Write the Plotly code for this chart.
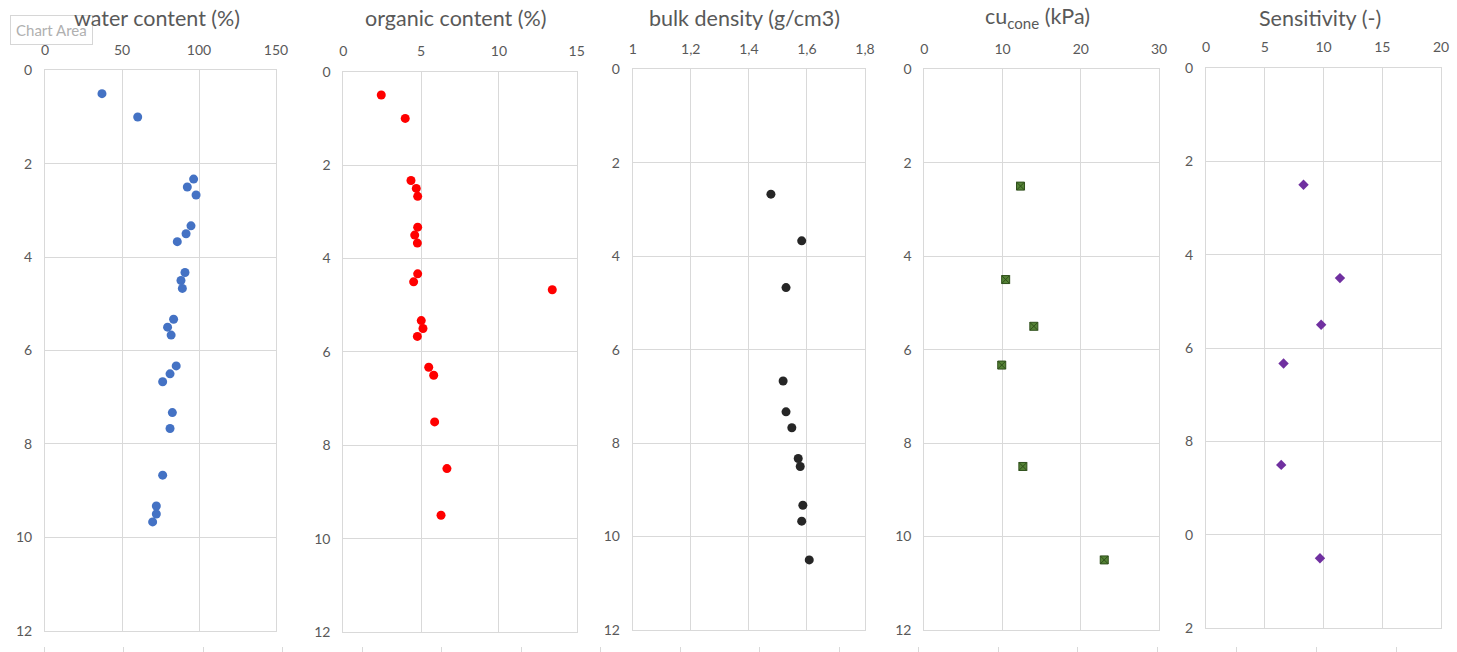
import plotly.graph_objects as go

# ---- data -------------------------------------------------------------
wc_depth = [0.5, 1.0, 2.33, 2.5, 2.67, 3.33, 3.5, 3.67, 4.33, 4.5, 4.67, 5.33, 5.5, 5.67,
            6.33, 6.5, 6.67, 7.33, 7.67, 8.67, 9.33, 9.5, 9.67]
wc_value = [37.0, 60.2, 96.5, 92.4, 98.1, 94.8, 91.6, 85.9, 90.9, 88.3, 89.2, 83.5, 79.6, 81.9,
            85.2, 81.2, 76.4, 82.7, 81.2, 76.4, 72.3, 72.3, 69.9]

oc_depth = [0.5, 1.0, 2.33, 2.5, 2.67, 3.33, 3.5, 3.67, 4.33, 4.5, 4.67, 5.33, 5.5, 5.67,
            6.33, 6.5, 7.5, 8.5, 9.5]
oc_value = [2.44, 3.98, 4.35, 4.69, 4.78, 4.78, 4.59, 4.76, 4.78, 4.52, 13.43, 5.01, 5.12, 4.76,
            5.49, 5.81, 5.87, 6.66, 6.28]

bd_depth = [2.67, 3.67, 4.67, 6.67, 7.33, 7.67, 8.33, 8.5, 9.33, 9.67, 10.5]
bd_value = [1.476, 1.582, 1.528, 1.518, 1.528, 1.548, 1.570, 1.577, 1.586, 1.582, 1.608]

cu_depth = [2.5, 4.5, 5.5, 6.33, 8.5, 10.5]
cu_value = [12.3, 10.4, 14.0, 9.9, 12.6, 23.0]

st_depth = [2.5, 4.5, 5.5, 6.33, 8.5, 10.5]
st_value = [8.3, 11.4, 9.8, 6.6, 6.4, 9.7]

titles = ["water content (%)", "organic content (%)", "bulk density (g/cm3)",
          "cu<sub>cone</sub> (kPa)", "Sensitivity (-)"]
x_ranges = [[0, 150], [0, 15], [1, 1.8], [0, 30], [0, 20]]
x_dticks = [50, 5, 0.2, 10, 5]
depth_ticks = [0, 2, 4, 6, 8, 10, 12]
depth_labels_last = ["0", "2", "4", "6", "8", "0", "2"]

# ---- layout geometry (pixels) ----------------------------------------
W, H = 1457, 652
panels_px = [  # left, right, top, bottom
    (45.0, 276.0, 70.3, 630.7),
    (343.3, 576.7, 71.7, 632.0),
    (632.7, 865.0, 69.4, 630.0),
    (924.3, 1159.0, 69.3, 630.0),
    (1206.0, 1441.0, 68.0, 628.3),
]

GRID = "#d9d9d9"
TXT = "#595959"
FONT = "Lato"

series = [
    (wc_value, wc_depth, dict(symbol="circle", size=9, color="#4472c4")),
    (oc_value, oc_depth, dict(symbol="circle", size=9, color="#ff0000")),
    (bd_value, bd_depth, dict(symbol="circle", size=9, color="#262626")),
    (cu_value, cu_depth, dict(symbol="square-x", size=8, color="#548235",
                              line=dict(color="#2f4f1b", width=1))),
    (st_value, st_depth, dict(symbol="diamond", size=8, color="#7030a0")),
]

fig = go.Figure()
annotations = [dict(text="Chart Area", x=10 / W, y=1 - 29.5 / H, xref="paper", yref="paper",
                    xanchor="left", yanchor="middle", showarrow=False,
                    font=dict(family=FONT, size=15, color="#b0b0b0"),
                    bgcolor="white", bordercolor="#d6d6d6", borderwidth=1, borderpad=5)]

for i, ((xv, yv, mk), (l, r, t, b)) in enumerate(zip(series, panels_px)):
    n = "" if i == 0 else str(i + 1)
    fig.add_trace(go.Scatter(x=xv, y=yv, mode="markers", marker=mk,
                             xaxis="x" + n, yaxis="y" + n, showlegend=False))
    xdom = [l / W, r / W]
    ydom = [1 - b / H, 1 - t / H]
    fig.layout["xaxis" + n] = dict(
        domain=xdom, range=x_ranges[i], dtick=x_dticks[i], tick0=x_ranges[i][0],
        side="top", anchor="y" + n, showgrid=True, gridcolor=GRID, gridwidth=1,
        showline=True, mirror=True, linecolor=GRID, linewidth=1, zeroline=False,
        ticks="outside", ticklen=9, tickcolor="rgba(0,0,0,0)", automargin=False,
        tickfont=dict(family=FONT, size=14, color=TXT), fixedrange=True)
    yax = dict(
        domain=ydom, range=[12, 0], anchor="x" + n, showgrid=True, gridcolor=GRID,
        gridwidth=1, showline=True, mirror=True, linecolor=GRID, linewidth=1,
        zeroline=False, tickmode="array", tickvals=depth_ticks, automargin=False,
        ticks="outside", ticklen=9, tickcolor="rgba(0,0,0,0)",
        tickfont=dict(family=FONT, size=14, color=TXT), fixedrange=True)
    if i == 4:
        yax["ticktext"] = depth_labels_last
    fig.layout["yaxis" + n] = yax
    annotations.append(dict(text=titles[i], x=((l + r) / 2 - 4) / W, y=1 - 18 / H,
                            xref="paper", yref="paper", xanchor="center", yanchor="middle",
                            showarrow=False, font=dict(family=FONT, size=21.5, color=TXT)))

# faint tick row along the bottom edge
fig.add_trace(go.Scatter(x=[None], y=[None], xaxis="x6", yaxis="y6",
                         mode="markers", showlegend=False, hoverinfo="skip"))
fig.layout["xaxis6"] = dict(domain=[44 / W, 1396 / W], range=[0, 17], dtick=1, tick0=0,
                            anchor="y6", side="bottom", showgrid=False, showline=False,
                            zeroline=False, showticklabels=False, ticks="outside",
                            ticklen=6, tickcolor=GRID, fixedrange=True, automargin=False)
fig.layout["yaxis6"] = dict(domain=[6 / H, 0.02], visible=False, fixedrange=True,
                            automargin=False)

fig.update_layout(
    width=W, height=H, margin=dict(l=0, r=0, t=0, b=0, autoexpand=False),
    paper_bgcolor="white", plot_bgcolor="white", separators=",.",
    annotations=annotations, font=dict(family=FONT, color=TXT),
)

fig.write_html("out.html", config={"displayModeBar": False})
